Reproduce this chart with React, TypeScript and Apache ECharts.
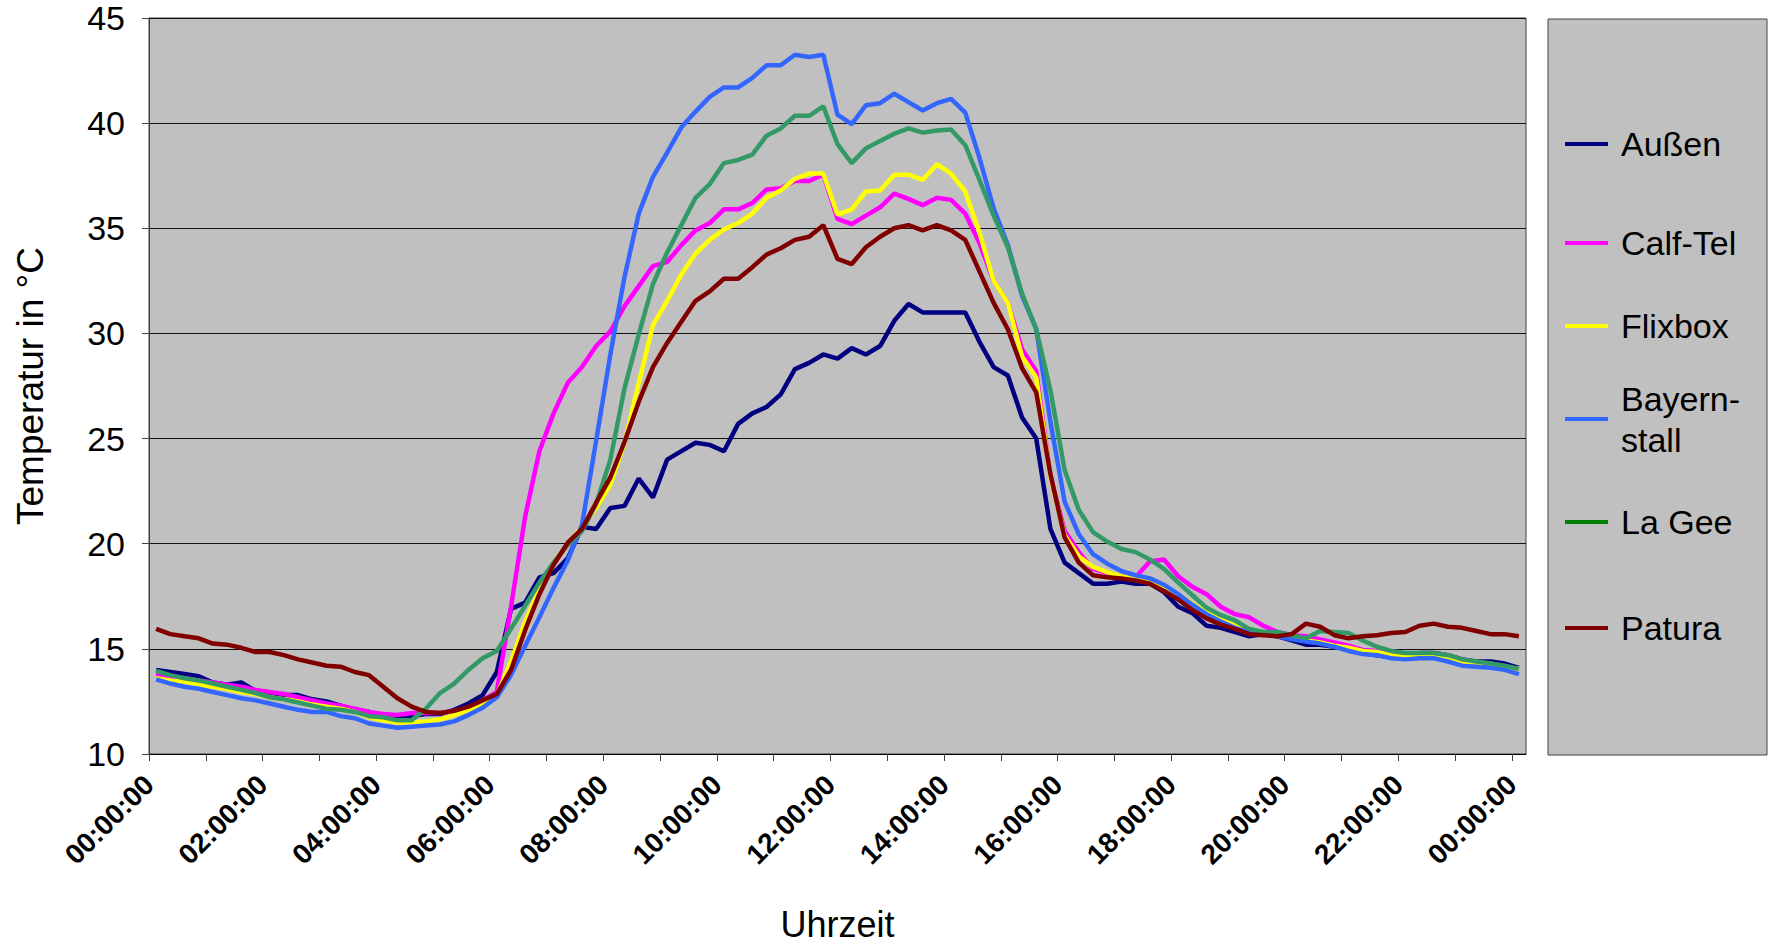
import React, { useEffect, useRef } from 'react';
import * as echarts from 'echarts';

const FONT = '"Liberation Sans", Arial, Helvetica, sans-serif';

// 15-minute readings, 00:00 .. 24:00 (97 points)
const aussen = [
  14.0, 13.9, 13.8, 13.7, 13.4, 13.3, 13.4, 13.0,
  12.9, 12.8, 12.8, 12.6, 12.5, 12.3, 12.1, 12.0,
  11.8, 11.8, 11.8, 11.9, 11.9, 12.1, 12.4, 12.8,
  13.9, 16.9, 17.2, 18.4, 18.6, 19.3, 20.8, 20.7,
  21.7, 21.8, 23.1, 22.2, 24.0, 24.4, 24.8, 24.7,
  24.4, 25.7, 26.2, 26.5, 27.1, 28.3, 28.6, 29.0,
  28.8, 29.3, 29.0, 29.4, 30.6, 31.4, 31.0, 31.0,
  31.0, 31.0, 29.6, 28.4, 28.0, 26.0, 25.0, 20.7,
  19.1, 18.6, 18.1, 18.1, 18.2, 18.1, 18.1, 17.7,
  17.0, 16.7, 16.1, 16.0, 15.8, 15.6, 15.7, 15.6,
  15.4, 15.2, 15.2, 15.1, 15.0, 14.8, 14.7, 14.6,
  14.6, 14.8, 14.8, 14.7, 14.5, 14.4, 14.4, 14.3,
  14.1,
];
const calfTel = [
  13.8, 13.7, 13.6, 13.5, 13.4, 13.3, 13.2, 13.05,
  12.95, 12.85, 12.7, 12.55, 12.4, 12.3, 12.15, 12.0,
  11.9, 11.85, 11.95, 11.95, 11.95, 12.05, 12.2, 12.55,
  12.95, 17.0, 21.3, 24.4, 26.2, 27.65, 28.4, 29.4,
  30.1, 31.3, 32.25, 33.2, 33.4, 34.2, 34.9, 35.25,
  35.9, 35.9, 36.2, 36.85, 36.9, 37.25, 37.25, 37.55,
  35.45, 35.2, 35.6, 36.0, 36.65, 36.4, 36.1, 36.45,
  36.35, 35.7, 34.3, 32.5, 31.45, 29.25, 28.2, 23.2,
  20.6, 19.6, 18.8, 18.6, 18.45, 18.4, 19.15, 19.25,
  18.45, 17.95, 17.6, 17.0, 16.65, 16.5, 16.1, 15.8,
  15.65, 15.6, 15.45, 15.3, 15.15, 14.95, 14.9, 14.8,
  14.7, 14.65, 14.7, 14.55, 14.4, 14.35, 14.25, 14.15,
  14.05,
];
const flixbox = [
  13.6, 13.5, 13.45, 13.3, 13.2, 13.1, 12.95, 12.85,
  12.7, 12.6, 12.5, 12.35, 12.25, 12.15, 12.0, 11.75,
  11.6, 11.5, 11.5, 11.55, 11.65, 11.85, 12.1, 12.4,
  12.8, 14.4, 16.3, 17.8, 19.1, 20.0, 20.8, 21.7,
  22.8, 24.8, 27.65, 30.4, 31.55, 32.8, 33.8, 34.45,
  34.95, 35.25, 35.7, 36.45, 36.8, 37.35, 37.6, 37.6,
  35.65, 35.9, 36.75, 36.8, 37.55, 37.55, 37.3, 38.05,
  37.6, 36.75, 34.8, 32.5, 31.45, 28.9, 27.9, 23.15,
  20.4, 19.4, 18.9, 18.65, 18.45, 18.35, 18.25, 18.0,
  17.6, 17.15, 16.75, 16.4, 16.1, 15.85, 15.75, 15.65,
  15.5, 15.4, 15.3, 15.15, 15.05, 14.9, 14.85, 14.7,
  14.6, 14.65, 14.7, 14.55, 14.4, 14.35, 14.3, 14.15,
  14.05,
];
const bayernstall = [
  13.55, 13.35, 13.2, 13.1, 12.95, 12.8, 12.65, 12.55,
  12.4, 12.25, 12.1, 12.0, 12.0, 11.8, 11.7, 11.45,
  11.35, 11.25, 11.3, 11.35, 11.4, 11.55, 11.85, 12.2,
  12.7, 13.75, 15.15, 16.5, 17.9, 19.2, 20.9, 24.9,
  29.0, 32.7, 35.7, 37.45, 38.6, 39.8, 40.55, 41.25,
  41.7, 41.7, 42.15, 42.75, 42.75, 43.25, 43.15, 43.25,
  40.4, 39.95, 40.85, 40.95, 41.4, 41.0, 40.6, 40.95,
  41.15, 40.5, 38.35, 35.95, 34.2, 31.8, 30.2, 25.8,
  22.0, 20.45, 19.5, 19.05, 18.7, 18.5, 18.35, 18.05,
  17.6, 17.1, 16.65, 16.3, 16.0, 15.8, 15.7, 15.6,
  15.45, 15.35, 15.25, 15.1, 14.9, 14.75, 14.7, 14.55,
  14.5, 14.55, 14.55, 14.4, 14.2, 14.15, 14.1, 14.0,
  13.8,
];
const laGee = [
  13.95, 13.75, 13.6, 13.5, 13.35, 13.2, 13.05, 12.9,
  12.7, 12.6, 12.45, 12.3, 12.15, 12.1, 12.0, 11.8,
  11.75, 11.6, 11.6, 12.15, 12.9, 13.35, 14.0, 14.55,
  14.9, 15.95, 17.05, 18.15, 19.1, 19.95, 20.6, 21.9,
  24.0, 27.4, 29.95, 32.35, 33.85, 35.15, 36.45, 37.1,
  38.1, 38.25, 38.5, 39.4, 39.75, 40.35, 40.35, 40.8,
  39.0, 38.1, 38.8, 39.15, 39.5, 39.75, 39.55, 39.65,
  39.7, 38.95, 37.3, 35.6, 34.1, 31.9, 30.2, 27.3,
  23.5, 21.6, 20.55, 20.1, 19.75, 19.6, 19.25, 18.8,
  18.15, 17.55, 16.95, 16.6, 16.35, 15.95, 15.8, 15.8,
  15.65, 15.5, 15.85, 15.8, 15.75, 15.4, 15.1, 14.9,
  14.8, 14.8, 14.8, 14.7, 14.5, 14.4, 14.3, 14.2,
  14.05,
];
const patura = [
  15.95, 15.7, 15.6, 15.5, 15.25, 15.2, 15.05, 14.85,
  14.85, 14.7, 14.5, 14.35, 14.2, 14.15, 13.9, 13.75,
  13.2, 12.65, 12.25, 12.0, 11.95, 12.05, 12.25, 12.55,
  12.85, 14.0, 15.9, 17.6, 19.0, 20.05, 20.7, 21.95,
  23.15, 24.85, 26.75, 28.4, 29.55, 30.55, 31.55, 32.0,
  32.6, 32.6, 33.15, 33.75, 34.05, 34.45, 34.6, 35.15,
  33.55, 33.3, 34.1, 34.6, 35.0, 35.15, 34.9, 35.15,
  34.9, 34.45, 32.95, 31.45, 30.2, 28.35, 27.2, 23.3,
  20.3, 19.1, 18.5, 18.4, 18.35, 18.25, 18.1, 17.75,
  17.35, 16.85, 16.45, 16.15, 15.95, 15.7, 15.65, 15.6,
  15.7, 16.2, 16.05, 15.65, 15.5, 15.6, 15.65, 15.75,
  15.8, 16.1, 16.2, 16.05, 16.0, 15.85, 15.7, 15.7,
  15.6,
];

const seriesNames = ['Außen', 'Calf-Tel', 'Flixbox', 'Bayern-stall', 'La Gee', 'Patura'];
const seriesData = [aussen, calfTel, flixbox, bayernstall, laGee, patura];
const lineColors = ['#000080', '#FF00FF', '#FFFF00', '#3366FF', '#339966', '#800000'];
const legendColors = ['#000080', '#FF00FF', '#FFFF00', '#3366FF', '#008000', '#800000'];
const legendCenters = [144, 243, 326, 419, 522, 628];

const STEP_MIN = 15;
const hhmmss = (m: number) => {
  const h = Math.floor(m / 60);
  const mm = m % 60;
  return `${String(h).padStart(2, '0')}:${String(mm).padStart(2, '0')}:00`;
};
// category per reading, and category boundaries used for ticks / labels
const pointTimes = aussen.map((_, i) => hhmmss(i * STEP_MIN));
const boundaryTimes = [...pointTimes, hhmmss(pointTimes.length * STEP_MIN)];
const tickLabel = (v: string) => (v === '24:00:00' ? '00:00:00' : v);

const GRID = { left: 149, top: 18, right: 243, bottom: 189 };

export default function App() {
  const ref = useRef<HTMLDivElement>(null);
  useEffect(() => {
    if (!ref.current) return;
    const chart = echarts.init(ref.current, undefined, { renderer: 'svg' });

    const legends = seriesNames.map((name, i) => {
      const twoLine = name === 'Bayern-stall';
      const lh = 41;
      const h = twoLine ? lh * 3 : lh;
      return {
        data: [{ name, itemStyle: { color: legendColors[i] } }],
        left: 1565,
        top: legendCenters[i] - h / 2,
        orient: 'vertical',
        icon: 'rect',
        itemWidth: 43,
        itemHeight: 4,
        padding: 0,
        selectedMode: false,
        formatter: (n: string) => (n === 'Bayern-stall' ? 'Bayern-\nstall' : n),
        textStyle: {
          fontFamily: FONT,
          fontSize: 34,
          color: '#000',
          lineHeight: lh,
          padding: twoLine ? [lh, 0, 0, 8] : [0, 0, 0, 8],
        },
      };
    });

    chart.setOption({
      animation: false,
      backgroundColor: '#ffffff',
      textStyle: { fontFamily: FONT },
      grid: {
        ...GRID,
        show: true,
        containLabel: false,
        outerBoundsMode: 'none',
        backgroundColor: '#C0C0C0',
        borderColor: '#404040',
        borderWidth: 1,
      },
      graphic: [
        {
          type: 'rect',
          z: -1,
          shape: { x: 1548, y: 19, width: 219, height: 736 },
          style: { fill: '#C0C0C0', stroke: '#404040', lineWidth: 1 },
        },
      ],
      legend: legends,
      xAxis: [
        {
          type: 'category',
          data: pointTimes,
          boundaryGap: true,
          show: false,
        },
        {
          type: 'category',
          data: boundaryTimes,
          boundaryGap: false,
          position: 'bottom',
          axisLine: { show: true, lineStyle: { color: '#000', width: 1 } },
          axisTick: { show: true, interval: 3, length: 7, lineStyle: { color: '#404040' } },
          axisLabel: {
            interval: 7,
            rotate: 45,
            margin: 26,
            fontSize: 28,
            fontWeight: 'bold',
            color: '#000',
            fontFamily: FONT,
            formatter: tickLabel,
          },
          splitLine: { show: false },
          name: 'Uhrzeit',
          nameLocation: 'middle',
          nameGap: 152,
          nameTextStyle: { fontSize: 36, color: '#000', fontFamily: FONT },
        },
      ],
      yAxis: {
        type: 'value',
        min: 10,
        max: 45,
        interval: 5,
        axisLine: { show: true, lineStyle: { color: '#404040', width: 1 } },
        axisTick: { show: true, length: 7, lineStyle: { color: '#404040' } },
        axisLabel: { fontSize: 34, color: '#000', margin: 24, fontFamily: FONT },
        splitLine: { show: true, lineStyle: { color: '#111', width: 1 } },
        name: 'Temperatur in °C',
        nameLocation: 'middle',
        nameGap: 100,
        nameTextStyle: { fontSize: 37, color: '#000', fontFamily: FONT },
      },
      series: seriesNames.map((name, i) => ({
        name,
        type: 'line',
        xAxisIndex: 0,
        data: seriesData[i],
        symbol: 'none',
        showSymbol: false,
        color: lineColors[i],
        lineStyle: { width: 4.5, color: lineColors[i] },
        z: 2 + i,
      })),
    });
    return () => chart.dispose();
  }, []);

  return (
    <div
      ref={ref}
      style={{ position: 'fixed', left: 0, top: 0, width: 1769, height: 943, background: '#fff' }}
    />
  );
}
